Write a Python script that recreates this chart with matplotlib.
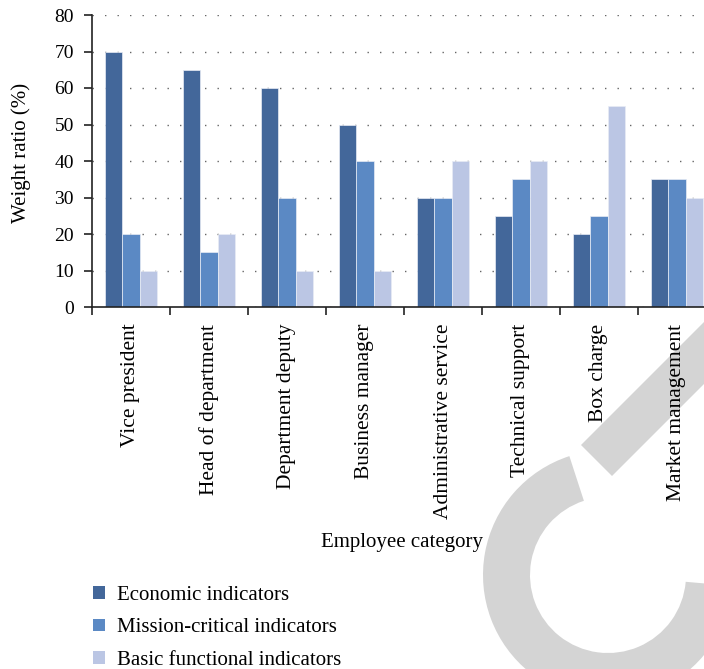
import numpy as np
import matplotlib
matplotlib.use("Agg")
from matplotlib import pyplot as plt
from matplotlib.patches import Patch, Polygon, Wedge
from matplotlib.transforms import IdentityTransform

plt.rcParams['font.family'] = ['Liberation Serif', 'DejaVu Serif']

categories = ["Vice president", "Head of department", "Department deputy",
              "Business manager", "Administrative service", "Technical support",
              "Box charge", "Market management"]
economic = [70, 65, 60, 50, 30, 25, 20, 35]
mission = [20, 15, 30, 40, 30, 35, 25, 35]
basic = [10, 20, 10, 10, 40, 40, 55, 30]
series_names = ["Economic indicators", "Mission-critical indicators",
                "Basic functional indicators"]
colors = ['#43679a', '#5b89c4', '#bbc6e4']

W, H = 704, 669
fig = plt.figure(figsize=(W / 100, H / 100), dpi=100)

# grey stamp in the lower right (pixel coords, y measured from the top)
gray = '#d4d4d4'
ring = Wedge((608, H - 575), 125, 108, 355, width=47,
             transform=IdentityTransform(), facecolor=gray,
             edgecolor='none', zorder=-5)
fig.patches.append(ring)
band_pts = [(581, 445), (612, 476), (820, 268), (789, 237)]
band = Polygon([(x, H - y) for x, y in band_pts], closed=True,
               transform=IdentityTransform(), facecolor=gray,
               edgecolor='none', zorder=-5)
fig.patches.append(band)

ax = fig.add_axes([92 / W, 1 - 307 / H, 624 / W, 292 / H])
ax.set_facecolor('none')

x = np.arange(len(categories))
bw = 0.222
for k, vals in enumerate([economic, mission, basic]):
    ax.bar(x + (k - 1) * bw, vals, bw, color=colors[k],
           edgecolor='#e8ecf5', linewidth=0.5, zorder=2, label=series_names[k])

ax.set_xlim(-0.5, len(categories) - 0.5)
ax.set_ylim(0, 80)
ax.set_yticks(range(0, 81, 10))
ax.yaxis.grid(True, linestyle=(0, (1, 8)), color='#666666', linewidth=1.0, zorder=0)
ax.set_axisbelow(True)

# boundary ticks between groups, labels at the group centres
ax.set_xticks(np.arange(-0.5, len(categories)), minor=False)
ax.set_xticklabels([])
ax.set_xticks(x, minor=True)
ax.set_xticklabels(categories, minor=True, rotation=90, ha='center', va='top',
                   fontsize=15.5)
ax.tick_params(axis='x', which='major', direction='out', length=6, width=1.2,
               color='#222222')
ax.tick_params(axis='x', which='minor', length=0, pad=12)
ax.tick_params(axis='y', direction='out', length=6, width=1.2, color='#222222',
               labelsize=14, pad=7)

for s in ['top', 'right']:
    ax.spines[s].set_visible(False)
for s in ['left', 'bottom']:
    ax.spines[s].set_linewidth(1.2)
    ax.spines[s].set_color('#222222')

ax.set_ylabel("Weight ratio (%)", fontsize=15)
ax.yaxis.set_label_coords(-0.097, 0.527)

fig.text(402 / W, 1 - 542 / H, "Employee category", fontsize=15,
         ha='center', va='center')

handles = [Patch(facecolor=c, edgecolor='none') for c in colors]
fig.legend(handles, series_names, loc='upper left',
           bbox_to_anchor=(93 / W, 1 - 586 / H), frameon=False, fontsize=15,
           handlelength=0.58, handleheight=0.58, handletextpad=0.58,
           labelspacing=0.64, borderpad=0, borderaxespad=0)

fig.savefig('out.png', dpi=100)
